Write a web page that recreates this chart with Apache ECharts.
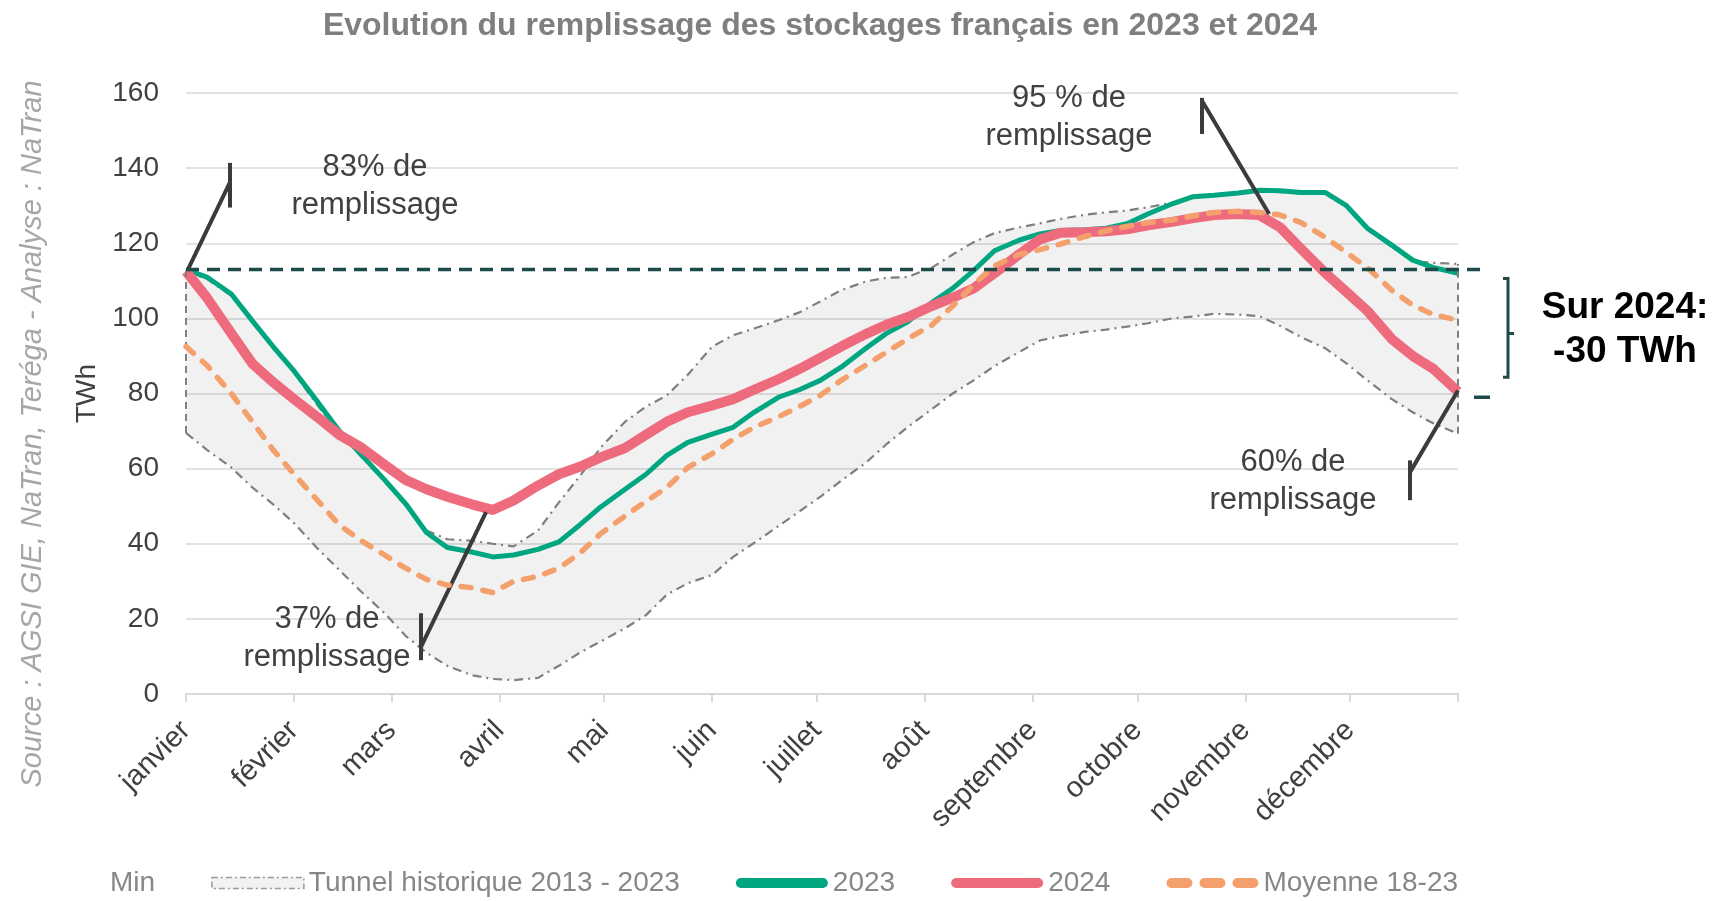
<!DOCTYPE html>
<html>
<head>
<meta charset="utf-8">
<title>Evolution du remplissage des stockages français</title>
<script src="https://cdn.jsdelivr.net/npm/echarts@6/dist/echarts.min.js"></script>
<style>
  html, body { margin: 0; padding: 0; background: #fff; }
  #chart { width: 1716px; height: 901px; }
</style>
</head>
<body>
<div id="chart"></div>
<script>
// jour de l'année (0 = 1er janvier)
const days = [0, 6, 13, 19, 25, 31, 38, 44, 50, 57, 63, 69, 75, 82, 88, 94, 101, 107, 113, 119,
  126, 132, 138, 144, 151, 157, 163, 170, 176, 182, 188, 195, 201, 207, 214, 220, 226, 232, 239, 245,
  251, 258, 264, 270, 276, 283, 289, 295, 302, 308, 314, 320, 327, 333, 339, 346, 352, 358, 365];

// TWh
const stock2023 = [113, 111, 106.5, 99.4, 92.5, 86, 77.5, 70, 64, 57, 50.7, 43, 39, 37.8, 36.5, 37, 38.5, 40.5, 45, 49.8,
  54.5, 58.5, 63.5, 67, 69.2, 71, 75, 79, 81, 83.5, 87, 92, 96, 99, 104.2, 108, 112.7, 118, 120.8, 122.5,
  123.4, 123.6, 124, 125.2, 127.8, 130.5, 132.4, 132.8, 133.4, 134.1, 134, 133.5, 133.5, 130, 124, 119.5, 115.5, 113.5, 112];

const stock2024 = [112.5, 105.5, 96, 88, 83, 78.5, 73.5, 69, 65.8, 61, 57, 54.5, 52.5, 50.5, 49, 51.5, 55.5, 58.5, 60.5, 63,
  65.5, 69, 72.5, 75, 76.8, 78.5, 81, 83.8, 86.5, 89.5, 92.5, 95.8, 98.3, 100.3, 103.3, 105.5, 108, 112, 117, 121,
  122.8, 122.9, 123.2, 123.7, 124.8, 125.7, 126.7, 127.5, 127.8, 127.5, 124.2, 118.5, 112, 107, 102, 94.5, 90, 86.5, 80.5];

const moyenne1823 = [92.5, 87.5, 80, 72.5, 65, 58.5, 51.3, 45, 41, 37, 33.5, 30.5, 29, 28.3, 27, 30, 31.3, 33.5, 37.5, 42.7,
  47.4, 51.3, 55, 60.3, 64, 67.8, 71, 73.8, 76.5, 79.5, 83.5, 87.5, 91, 94.5, 98.2, 103.3, 109, 114, 117, 118.3,
  119.8, 121.8, 123.3, 124.5, 125.5, 126.2, 127.3, 128.2, 128.5, 128.2, 127.5, 125.5, 121.5, 117.5, 113.5, 107.5, 103.5, 101, 99.5];

const tunnelMin = [69.5, 65, 60.3, 55, 50.5, 45.5, 38.5, 33, 27.5, 21.5, 15.5, 11, 7.5, 5, 4, 3.7, 4.3, 7.5, 11, 14,
  17.5, 21, 26.5, 29.5, 31.7, 36.5, 40.2, 44.7, 48.6, 52.5, 56.8, 61.5, 66.5, 71, 75.8, 80, 83.5, 87.3, 91, 94.1,
  95.3, 96.4, 97, 97.8, 98.7, 100, 100.5, 101.2, 101, 100.6, 98, 95, 92, 88, 83.5, 78.5, 75, 72, 69.3];

const tunnelMax = [112.5, 110.5, 106, 99, 92, 85.5, 76.5, 69.5, 63.5, 56.5, 50.2, 43.5, 41.2, 40.8, 40, 39.3, 43.5, 51, 58, 65.6,
  72.5, 76.5, 79.5, 85, 92.5, 95.5, 97.3, 99.5, 101.6, 104.5, 107.5, 109.8, 110.8, 111, 113.5, 117, 120.3, 122.7, 124.2, 125.3,
  126.5, 127.6, 128.2, 128.7, 129.6, 130.8, 132.2, 132.6, 133.2, 133.8, 133.6, 133.2, 133.2, 129.6, 123.6, 119, 115.2, 114.8, 114.5];

const monthStarts = [0, 31, 59, 90, 120, 151, 181, 212, 243, 273, 304, 334];
const monthLabels = ['janvier', 'février', 'mars', 'avril', 'mai', 'juin', 'juillet', 'août',
  'septembre', 'octobre', 'novembre', 'décembre'];

// niveaux 2024 (début / fin d'année) pour l'écart
const niveaux2024 = [113, 79];

// traits de rappel : point sur la courbe, coude, puis petite barre verticale (haut, bas)
const callouts = [
  [[0.4, 112.7], [12.5, 136], [12.5, 141.4], [12.5, 129.5]],
  [[86.1, 48.4], [67.4, 12.5], [67.4, 21.5], [67.4, 9]],
  [[310.8, 127.8], [291.5, 158], [291.5, 158.7], [291.5, 149.1]],
  [[365, 80.8], [351.2, 59], [351.2, 62.2], [351.2, 51.6]]
];

const FONT = "'Liberation Sans', Arial, sans-serif";
const C2023 = '#00a680';
const C2024 = '#ee6b7d';
const CMOY = '#f4a06c';
const CTUN = '#7f7f7f';
const DASHDOT = [9, 5, 2, 5];

const pairs = (arr) => days.map((d, i) => [d, arr[i]]);

const chart = echarts.init(document.getElementById('chart'));

const roundIcon = 'path://M5,0h82a5,5 0 0 1 0,10h-82a5,5 0 0 1 0,-10z';
const dashIcon = 'path://M5,0h16a5,5 0 0 1 0,10h-16a5,5 0 0 1 0,-10z M38,0h16a5,5 0 0 1 0,10h-16a5,5 0 0 1 0,-10z M71,0h16a5,5 0 0 1 0,10h-16a5,5 0 0 1 0,-10z';

const option = {
  animation: false,
  textStyle: { fontFamily: FONT },
  title: {
    text: 'Evolution du remplissage des stockages français en 2023 et 2024',
    left: 815,
    top: 5,
    textAlign: 'center',
    textStyle: { color: '#7f7f7f', fontSize: 32, fontWeight: 'bold', fontFamily: FONT }
  },
  legend: {
    left: 8,
    top: 864,
    itemWidth: 92,
    itemHeight: 11,
    itemGap: 56,
    selectedMode: false,
    textStyle: { color: '#878787', fontSize: 28, fontFamily: FONT },
    data: [
      { name: 'Min', icon: 'none' },
      { name: 'Tunnel historique 2013 - 2023', icon: 'rect',
        itemStyle: { color: '#f2f2f2', borderColor: '#9a9a9a', borderWidth: 1.5, borderType: [6, 3, 2, 3] } },
      { name: '2023', icon: roundIcon, itemStyle: { color: C2023, borderWidth: 0 } },
      { name: '2024', icon: roundIcon, itemStyle: { color: C2024, borderWidth: 0 } },
      { name: 'Moyenne 18-23', icon: dashIcon, itemStyle: { color: CMOY, borderWidth: 0 } }
    ]
  },
  grid: { left: 186, right: 258, top: 93, bottom: 207 },
  xAxis: {
    type: 'value',
    min: 0,
    max: 365,
    splitLine: { show: false },
    axisLine: { show: true, lineStyle: { color: '#d9d9d9', width: 2 } },
    axisTick: { show: true, length: 8, lineStyle: { color: '#d9d9d9', width: 2 }, customValues: monthStarts.concat([365]) },
    axisLabel: {
      rotate: 45,
      margin: 32,
      color: '#404040',
      fontSize: 29,
      fontFamily: FONT,
      customValues: monthStarts,
      formatter: (v) => {
        const i = monthStarts.indexOf(v);
        return i >= 0 ? monthLabels[i] : '';
      }
    }
  },
  yAxis: {
    type: 'value',
    min: 0,
    max: 160,
    interval: 20,
    name: 'TWh',
    nameLocation: 'middle',
    nameGap: 75,
    nameRotate: 90,
    nameTextStyle: { color: '#404040', fontSize: 28, fontFamily: FONT },
    axisLine: { show: false },
    axisTick: { show: false },
    axisLabel: { color: '#404040', fontSize: 28, margin: 27, fontFamily: FONT },
    splitLine: { lineStyle: { color: '#d9d9d9', width: 1.5 } }
  },
  series: [
    {
      name: 'Tunnel historique 2013 - 2023',
      type: 'custom',
      silent: true,
      z: 1,
      data: [[0, 0]],
      renderItem: (params, api) => {
        const pts = days.map((d, i) => api.coord([d, tunnelMax[i]]));
        for (let i = days.length - 1; i >= 0; i--) pts.push(api.coord([days[i], tunnelMin[i]]));
        return { type: 'polygon', shape: { points: pts }, style: { fill: 'rgba(0,0,0,0.055)' } };
      }
    },
    {
      name: 'Min',
      type: 'line',
      z: 2,
      symbol: 'none',
      color: CTUN,
      lineStyle: { color: CTUN, width: 2.2, type: DASHDOT },
      data: pairs(tunnelMin),
      markLine: {
        silent: true,
        symbol: ['none', 'none'],
        label: { show: false },
        lineStyle: { color: CTUN, width: 2, type: [7, 5] },
        data: [
          [{ coord: [0, tunnelMin[0]] }, { coord: [0, tunnelMax[0]] }],
          [{ coord: [365, tunnelMin[tunnelMin.length - 1]] }, { coord: [365, tunnelMax[tunnelMax.length - 1]] }]
        ]
      }
    },
    {
      name: 'Max',
      type: 'line',
      z: 2,
      symbol: 'none',
      color: CTUN,
      lineStyle: { color: CTUN, width: 2.2, type: DASHDOT },
      data: pairs(tunnelMax)
    },
    {
      name: '2023',
      type: 'line',
      z: 3,
      symbol: 'none',
      color: C2023,
      lineStyle: { color: C2023, width: 5 },
      data: pairs(stock2023)
    },
    {
      name: '2024',
      type: 'line',
      z: 4,
      symbol: 'none',
      color: C2024,
      lineStyle: { color: C2024, width: 10, join: 'round' },
      data: pairs(stock2024)
    },
    {
      name: 'Moyenne 18-23',
      type: 'line',
      z: 5,
      symbol: 'none',
      color: CMOY,
      lineStyle: { color: CMOY, width: 5.5, type: [10, 12], cap: 'round' },
      data: pairs(moyenne1823)
    },
    {
      name: 'rappels',
      type: 'line',
      z: 6,
      symbol: 'none',
      data: [],
      markLine: {
        silent: true,
        symbol: ['none', 'none'],
        label: { show: false },
        lineStyle: { color: '#3b3b3b', width: 4, type: 'solid' },
        data: callouts.flatMap(c => [
          [{ coord: c[0] }, { coord: c[1] }],
          [{ coord: c[2] }, { coord: c[3] }]
        ])
      }
    }
  ]
};

chart.setOption(option);

// annotations placées après coup, à partir des échelles du graphique
const [xl, yTop] = chart.convertToPixel({ gridIndex: 0 }, [0, niveaux2024[0]]);
const [xr, yBot] = chart.convertToPixel({ gridIndex: 0 }, [365, niveaux2024[1]]);
const TEAL = '#1e4a4a';
const annText = (text, x, y) => ({
  type: 'text', x, y, z: 100,
  style: { text, fill: '#404040', font: '31px ' + FONT, align: 'center', verticalAlign: 'middle', lineHeight: 38 }
});

chart.setOption({
  graphic: [
    { type: 'line', z: 100, shape: { x1: xl, y1: yTop, x2: xr + 29, y2: yTop },
      style: { stroke: TEAL, lineWidth: 3.5, lineDash: [13, 8] } },
    { type: 'line', z: 100, shape: { x1: xr + 16, y1: yBot, x2: xr + 32, y2: yBot },
      style: { stroke: TEAL, lineWidth: 3.5 } },
    { type: 'polyline', z: 100,
      shape: { points: [[xr + 45, yTop + 9], [xr + 50, yTop + 9], [xr + 50, (yTop + yBot) / 2], [xr + 56, (yTop + yBot) / 2],
        [xr + 50, (yTop + yBot) / 2], [xr + 50, yBot - 20], [xr + 45, yBot - 20]] },
      style: { stroke: TEAL, lineWidth: 3, fill: null } },
    { type: 'text', x: 1625, y: 330, z: 100,
      style: { text: 'Sur 2024:\n-30 TWh', fill: '#000', font: 'bold 37px ' + FONT, align: 'center', verticalAlign: 'middle', lineHeight: 44 } },
    annText('83% de\nremplissage', 375, 186),
    annText('95 % de\nremplissage', 1069, 117),
    annText('37% de\nremplissage', 327, 638),
    annText('60% de\nremplissage', 1293, 481),
    { type: 'text', x: 33, y: 434, z: 100, rotation: Math.PI / 2,
      style: { text: 'Source : AGSI GIE, NaTran, Teréga - Analyse : NaTran', fill: '#a6a6a6',
        font: 'italic 29px ' + FONT, align: 'center', verticalAlign: 'middle' } }
  ]
});

window.addEventListener('resize', () => chart.resize());
</script>
</body>
</html>
